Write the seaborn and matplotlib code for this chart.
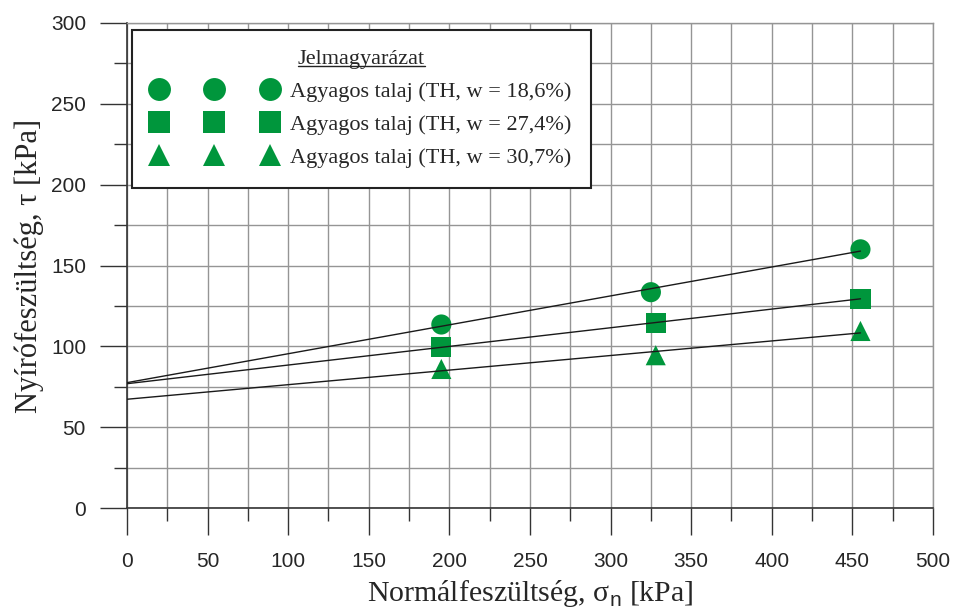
"""
Shear strength test (direct shear) - clayey soil at three water contents.
Mohr-Coulomb lines fitted to the measured points.
"""
import numpy as np
import pandas as pd
import matplotlib
matplotlib.use("Agg")
import matplotlib.pyplot as plt
from matplotlib.lines import Line2D
from matplotlib.ticker import MultipleLocator
import seaborn as sns

# normal stress sigma_n [kPa] and shear stress tau [kPa] per sample
SIGMA_W186 = [195, 325, 455]
TAU_W186 = [113.5, 133.5, 160]
SIGMA_W274 = [195, 328, 455]
TAU_W274 = [99.5, 114.5, 129.5]
SIGMA_W307 = [195, 328, 455]
TAU_W307 = [86, 94.5, 109.5]

LABELS = [
    "Agyagos talaj (TH, w = 18,6%)",
    "Agyagos talaj (TH, w = 27,4%)",
    "Agyagos talaj (TH, w = 30,7%)",
]
MARKERS = ["o", "s", "^"]
GREEN = "#00963c"
SERIF = ["Liberation Serif", "DejaVu Serif"]

sns.set_style("white")
plt.rcParams["font.family"] = ["Liberation Sans", "DejaVu Sans"]
plt.rcParams["mathtext.fontset"] = "custom"
plt.rcParams["mathtext.rm"] = "Liberation Serif"
plt.rcParams["mathtext.sf"] = "Liberation Sans"

series = [(SIGMA_W186, TAU_W186), (SIGMA_W274, TAU_W274), (SIGMA_W307, TAU_W307)]
df = pd.concat(
    [pd.DataFrame({"sigma": s, "tau": t, "sample": lab})
     for (s, t), lab in zip(series, LABELS)],
    ignore_index=True,
)

fig = plt.figure(figsize=(9.54, 6.1), dpi=100)
ax = fig.add_axes([127 / 954, 102 / 610, 806 / 954, 485 / 610])

sns.scatterplot(data=df, x="sigma", y="tau", style="sample",
                markers=dict(zip(LABELS, MARKERS)), color=GREEN,
                s=210, linewidth=0, legend=False, zorder=3, ax=ax)

# Mohr-Coulomb fit lines, drawn from sigma = 0 to the last measured point
for s, t in series:
    slope, icept = np.polyfit(s, t, 1)
    xs = np.array([0, max(s)])
    ax.plot(xs, icept + slope * xs, color="#1a1a1a", lw=1.0, zorder=4)

ax.set_xlim(0, 500)
ax.set_ylim(0, 300)
ax.xaxis.set_major_locator(MultipleLocator(50))
ax.xaxis.set_minor_locator(MultipleLocator(25))
ax.yaxis.set_major_locator(MultipleLocator(50))
ax.yaxis.set_minor_locator(MultipleLocator(25))

ax.grid(True, which="both", color="#959595", lw=1.0)
ax.set_axisbelow(True)
for side in ["top", "right"]:
    ax.spines[side].set_color("#959595")
    ax.spines[side].set_linewidth(1.0)
for side in ["left", "bottom"]:
    ax.spines[side].set_color("#333333")
    ax.spines[side].set_linewidth(1.2)

ax.tick_params(which="both", bottom=True, left=True, direction="out",
               color="#333333", width=1.0)
ax.tick_params(which="major", length=19.5, labelsize=15)
ax.tick_params(axis="x", which="major", pad=12)
ax.tick_params(axis="y", which="major", pad=10)
ax.tick_params(which="minor", length=9.7)

ax.set_xlabel("Normálfeszültség, σ$_\\mathsf{n}$ [kPa]", family=SERIF,
              fontsize=21.5, labelpad=5)
ax.set_ylabel("Nyírófeszültség, τ [kPa]", family=SERIF, fontsize=22,
              labelpad=5)

handles = [Line2D([], [], marker=m, linestyle="none", color=GREEN,
                  markersize=16.5, markeredgewidth=0) for m in MARKERS]
leg = ax.legend(handles, LABELS, title="Jelmagyarázat", numpoints=3,
                handlelength=5.6, handletextpad=0.6, borderpad=0.9,
                labelspacing=0.55, loc="upper left",
                bbox_to_anchor=(0.006, 0.985), borderaxespad=0,
                frameon=True, fancybox=False,
                edgecolor="#222222", framealpha=1,
                prop={"family": SERIF, "size": 16},
                title_fontproperties={"family": SERIF, "size": 16})
leg.get_frame().set_linewidth(1.5)
leg.set_zorder(5)

# underline the legend title (matplotlib has no underline text style)
fig.canvas.draw()
bb = leg.get_title().get_window_extent(fig.canvas.get_renderer())
y_ul = bb.y0 + 0.13 * 16 * fig.dpi / 72
inv = fig.transFigure.inverted()
(x0, y0), (x1, _) = inv.transform([(bb.x0, y_ul), (bb.x1, y_ul)])
fig.add_artist(Line2D([x0, x1], [y0, y0], color="#222222", lw=1.0,
                      transform=fig.transFigure, zorder=10))

fig.savefig("out.png", dpi=100)
